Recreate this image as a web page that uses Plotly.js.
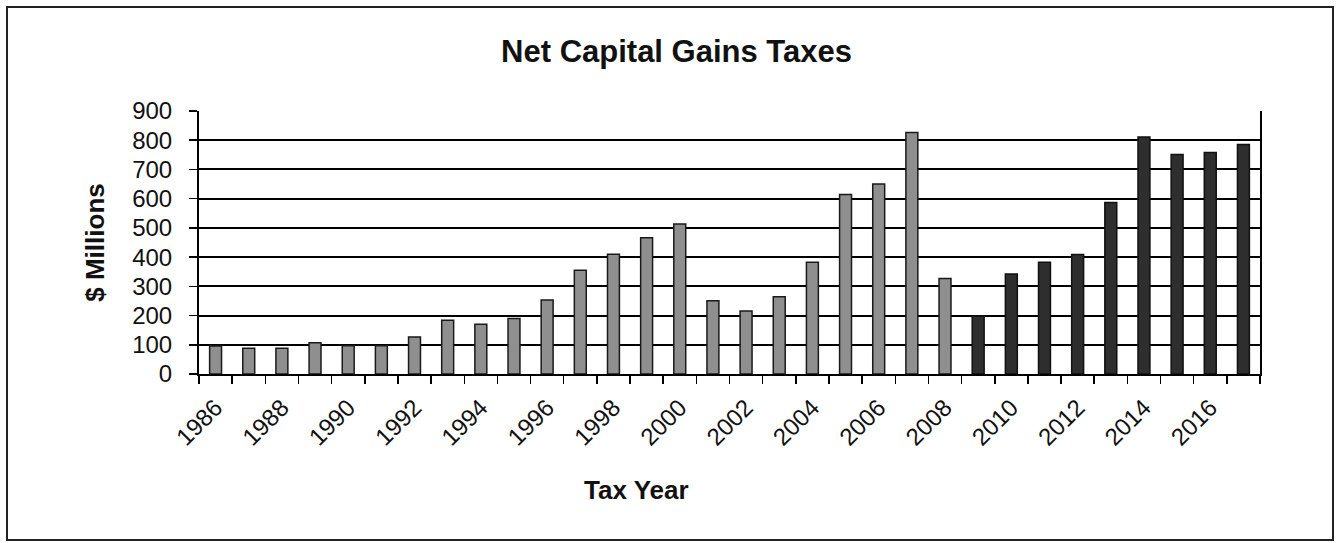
<!DOCTYPE html>
<html>
<head>
<meta charset="utf-8">
<script src="https://cdn.plot.ly/plotly-3.0.1.min.js"></script>
<style>
  html, body { margin: 0; padding: 0; background: #fff; }
  #wrap { position: absolute; left: 0; top: 0; width: 1337px; height: 543px; }
  #frame { position: absolute; left: 6px; top: 6px; width: 1324px; height: 531px; border: 2px solid #222; pointer-events: none; }
  #chart { position: absolute; left: 0; top: 0; width: 1337px; height: 543px; }
</style>
</head>
<body>
<div id="wrap">
  <div id="chart"></div>
  <div id="frame"></div>
</div>
<script>
// Tax years and net capital gains taxes ($ millions)
const actualYears = [1986,1987,1988,1989,1990,1991,1992,1993,1994,1995,1996,1997,1998,1999,2000,2001,2002,2003,2004,2005,2006,2007,2008];
const actualValues = [96,88,88,107,97,97,127,184,170,190,253,355,410,466,513,251,216,264,382,614,650,826,327];
const projectedYears = [2009,2010,2011,2012,2013,2014,2015,2016,2017];
const projectedValues = [198,342,382,409,587,811,751,758,785];
const xTickLabels = [1986,1988,1990,1992,1994,1996,1998,2000,2002,2004,2006,2008,2010,2012,2014,2016];
const yTickValues = [0,100,200,300,400,500,600,700,800,900];

const FONT = '"Liberation Sans", Arial, Helvetica, sans-serif';

const traces = [
  {
    type: 'bar', name: 'Actual',
    x: actualYears, y: actualValues,
    width: 0.36,
    marker: { color: '#8f8f8f', line: { color: '#1a1a1a', width: 1.5 } },
    hoverinfo: 'x+y'
  },
  {
    type: 'bar', name: 'Estimated',
    x: projectedYears, y: projectedValues,
    width: 0.36,
    marker: { color: '#2e2e2e', line: { color: '#111', width: 1.5 } },
    hoverinfo: 'x+y'
  }
];

const layout = {
  width: 1337, height: 543,
  margin: { l: 199, r: 77, t: 111, b: 169 },
  paper_bgcolor: '#fff', plot_bgcolor: '#fff',
  showlegend: false,
  barmode: 'overlay',
  font: { family: FONT, color: '#111', size: 24 },
  title: {
    text: 'Net Capital Gains Taxes',
    font: { family: FONT, size: 31, weight: 'bold', color: '#111' },
    x: 0.506, xanchor: 'center', xref: 'container',
    y: 0.905, yanchor: 'middle', yref: 'container'
  },
  annotations: [{
    text: 'Tax Year', showarrow: false,
    xref: 'paper', yref: 'paper', x: 0.4128, y: -0.44,
    xanchor: 'center', yanchor: 'middle',
    font: { family: FONT, size: 26, weight: 'bold', color: '#111' }
  }],
  xaxis: {
    type: 'linear',
    range: [1985.5, 2017.5],
    tickmode: 'array', tickvals: xTickLabels, ticktext: xTickLabels.map(String),
    tickangle: -45,
    ticks: 'outside', ticklen: 0, tickcolor: '#000',
    ticklabelstandoff: 8,
    tickfont: { family: FONT, size: 24, color: '#111' },
    minor: { tick0: 1985.5, dtick: 1, ticks: 'outside', ticklen: 8, tickwidth: 1.5, tickcolor: '#000', showgrid: false },
    showgrid: false, zeroline: false,
    showline: true, linecolor: '#000', linewidth: 2,
    fixedrange: true
  },
  yaxis: {
    range: [0, 900],
    tickmode: 'array', tickvals: yTickValues,
    ticks: 'outside', ticklen: 8, tickwidth: 1.5, tickcolor: '#000',
    ticklabelstandoff: 12,
    tickfont: { family: FONT, size: 24, color: '#111' },
    showgrid: true, gridcolor: '#000', gridwidth: 2,
    zeroline: false,
    showline: true, linecolor: '#000', linewidth: 2, mirror: true,
    title: { text: '$ Millions', font: { family: FONT, size: 26, weight: 'bold', color: '#111' }, standoff: 20 },
    fixedrange: true
  }
};

Plotly.newPlot('chart', traces, layout, { displayModeBar: false, staticPlot: true });
</script>
</body>
</html>
